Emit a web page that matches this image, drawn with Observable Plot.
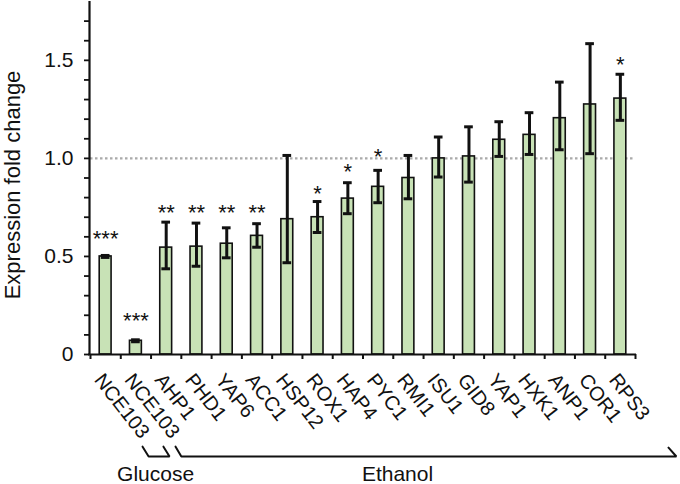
<!DOCTYPE html>
<html>
<head>
<meta charset="utf-8">
<script src="https://cdn.jsdelivr.net/npm/d3@7"></script>
<script src="https://cdn.jsdelivr.net/npm/@observablehq/plot@0.6"></script>
<style>
  html, body { margin: 0; padding: 0; background: #fff; }
  #chart svg { display: block; }
</style>
</head>
<body>
<div id="chart"></div>
<script>
// ---- data ----
const genes = ["NCE103","NCE103","AHP1","PHD1","YAP6","ACC1","HSP12","ROX1","HAP4","PYC1","RMI1","ISU1","GID8","YAP1","HXK1","ANP1","COR1","RPS3"];
const means = [0.50,0.07,0.545,0.55,0.565,0.605,0.69,0.70,0.795,0.855,0.90,1.00,1.01,1.095,1.12,1.205,1.275,1.305];
const errLo = [0.495,0.065,0.437,0.45,0.493,0.547,0.468,0.622,0.718,0.774,0.794,0.905,0.879,1.01,1.02,1.044,1.024,1.194];
const errHi = [0.505,0.075,0.675,0.67,0.646,0.667,1.015,0.78,0.876,0.939,1.015,1.109,1.161,1.187,1.233,1.389,1.585,1.429];
const sig   = ["***","***","**","**","**","**","","*","*","*","","","","","","","","*"];
const sigY  = [0.622,0.204,0.751,0.751,0.751,0.751,null,0.847,0.959,1.036,null,null,null,null,null,null,null,1.509];
const yTickValues = [0, 0.5, 1.0, 1.5];
const yTickLabels = ["0", "0.5", "1.0", "1.5"];
const yMinorTicks = d3.range(0, 18).map(k => k / 10);
const referenceLevel = 1.0;
const yTitle = "Expression fold change";
const groups = [
  {label: "Glucose", pts: [[1.72,-0.47],[1.92,-0.52],[2.61,-0.52],[2.41,-0.47]], tx: 2.15},
  {label: "Ethanol", pts: [[2.81,-0.47],[3.0,-0.52],[19.35,-0.52],[19.09,-0.475]], tx: 10.14}
];

const rows = genes.map((g, i) => ({i, gene: g, mean: means[i], lo: errLo[i], hi: errHi[i], sig: sig[i], sy: sigY[i]}));
const n = genes.length;
const font = "'Liberation Sans', Arial, Helvetica, sans-serif";

const plot = Plot.plot({
  width: 680,
  height: 484,
  marginLeft: 90,
  marginRight: 45,
  marginTop: 1,
  marginBottom: 130,
  style: {fontFamily: font, fontSize: "20px", color: "#111", background: "#fff"},
  x: {type: "linear", domain: [0, n], axis: null, label: null},
  y: {domain: [0, 1.8], axis: null, label: null},
  marks: [
    // reference dotted line
    Plot.ruleY([referenceLevel], {x1: 0, x2: n, stroke: "#aaa", strokeWidth: 2.2, strokeDasharray: "2.5,2.5"}),
    // bars
    Plot.rectY(rows, {x1: d => d.i, x2: d => d.i + 1, y1: 0, y2: "mean", insetLeft: 9.2, insetRight: 9.2, fill: "#c8e2b6", stroke: "#111", strokeWidth: 1.6}),
    // error bars
    Plot.ruleX(rows, {x: d => d.i + 0.5, y1: "lo", y2: "hi", stroke: "#111", strokeWidth: 3}),
    Plot.ruleY(rows, {x1: d => d.i, x2: d => d.i + 1, y: "hi", insetLeft: 10.8, insetRight: 10.8, stroke: "#111", strokeWidth: 3}),
    Plot.ruleY(rows, {x1: d => d.i, x2: d => d.i + 1, y: "lo", insetLeft: 10.8, insetRight: 10.8, stroke: "#111", strokeWidth: 3}),
    // significance stars
    Plot.text(rows.filter(d => d.sig), {x: d => d.i + 0.5, y: "sy", text: "sig", fontSize: 22, dy: 6, fill: "#111"}),
    // axes
    Plot.ruleY([0], {x1: 0, x2: n, stroke: "#111", strokeWidth: 2.2, insetLeft: -2, insetRight: -1}),
    Plot.ruleX([0], {y1: 0, y2: 1.8, stroke: "#111", strokeWidth: 2.2, dx: -1}),
    Plot.axisX(d3.range(0, n + 1), {tickSize: 5, tickFormat: () => "", stroke: "#111", strokeWidth: 2, label: null}),
    Plot.axisY(yMinorTicks, {tickSize: 5, tickFormat: () => "", stroke: "#111", strokeWidth: 1.8, dx: -1, label: null}),
    Plot.axisY(yTickValues, {tickSize: 0, tickPadding: 17, tickFormat: (d, k) => yTickLabels[k], fontSize: 21, fill: "#111", label: null}),
    // gene labels
    Plot.text(rows, {x: d => d.i + 0.5, y: 0, text: "gene", rotate: 52, textAnchor: "start", lineAnchor: "top", dx: -1, dy: 17, fontSize: 20, fill: "#111"}),
    // y title
    Plot.text([yTitle], {frameAnchor: "left", text: d => d, rotate: -90, textAnchor: "middle", lineAnchor: "middle", dx: -78, dy: 7, fontSize: 22, fill: "#111"}),
    // group brackets
    ...groups.map(g => Plot.line(g.pts, {x: d => d[0], y: d => d[1], stroke: "#111", strokeWidth: 2, strokeLinejoin: "miter"})),
    Plot.text(groups, {x: "tx", y: -0.612, text: "label", fontSize: 21, fill: "#111"})
  ]
});
document.getElementById("chart").appendChild(plot);
</script>
</body>
</html>
